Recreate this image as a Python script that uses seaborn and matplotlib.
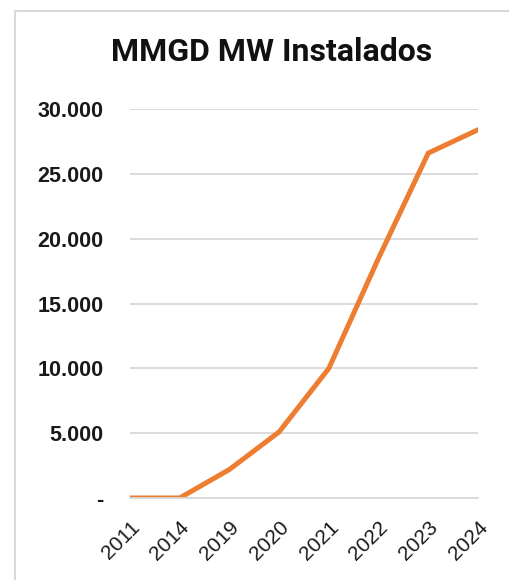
import matplotlib
matplotlib.use("Agg")
import matplotlib.pyplot as plt
from matplotlib.patches import Rectangle
from matplotlib.ticker import FuncFormatter, MultipleLocator
import seaborn as sns
import pandas as pd

years = ["2011", "2014", "2019", "2020", "2021", "2022", "2023", "2024"]
mw_installed = [0, 0, 2200, 5100, 10000, 18500, 26600, 28400]
title = "MMGD MW Instalados"

df = pd.DataFrame({"year": years, "mw": mw_installed})

sns.set_theme(style="white")
plt.rcParams["font.family"] = ["Liberation Sans", "DejaVu Sans"]

W, H = 510, 580
fig = plt.figure(figsize=(W / 100, H / 100), dpi=100)
fig.patch.set_facecolor("white")

# outer chart frame
fig.patches.append(Rectangle((15 / W, -0.05), 1.2, (H - 11) / H + 0.05,
                             transform=fig.transFigure, fill=False,
                             edgecolor="#d9d9d9", linewidth=1.5))

left, right, top, bottom = 130, 478, 109, 498
ax = fig.add_axes([left / W, 1 - bottom / H, (right - left) / W, (bottom - top) / H])

sns.lineplot(data=df, x="year", y="mw", ax=ax, color="#ED7D31",
             linewidth=3.6, sort=False, solid_joinstyle="miter")

ax.set_xlim(0, len(years) - 1)
ax.set_ylim(0, 30000)
ax.yaxis.set_major_locator(MultipleLocator(5000))
ax.yaxis.set_major_formatter(FuncFormatter(
    lambda v, p: "-" if v == 0 else f"{int(v):,}".replace(",", ".")))
ax.grid(axis="y", color="#d9d9d9", linewidth=1.3)
ax.grid(axis="x", visible=False)
ax.set_axisbelow(True)
for s in ["top", "right", "left"]:
    ax.spines[s].set_visible(False)
ax.spines["bottom"].set_color("#d9d9d9")
ax.spines["bottom"].set_linewidth(1.3)
ax.set_xlabel("")
ax.set_ylabel("")
ax.tick_params(axis="y", length=0, pad=19, labelsize=15.5, labelcolor="#1a1a1a")
for t in ax.get_yticklabels():
    t.set_fontweight("bold")
ax.tick_params(axis="x", length=0, pad=14, labelsize=15, labelcolor="#1a1a1a")
plt.setp(ax.get_xticklabels(), rotation=45, ha="right", rotation_mode="anchor")

fig.text(272 / W, 1 - 52 / H, title, ha="center", va="center",
         fontsize=23, fontweight="bold", color="#111111",
         family=["Roboto", "DejaVu Sans"])

fig.savefig("out.png", dpi=100)
